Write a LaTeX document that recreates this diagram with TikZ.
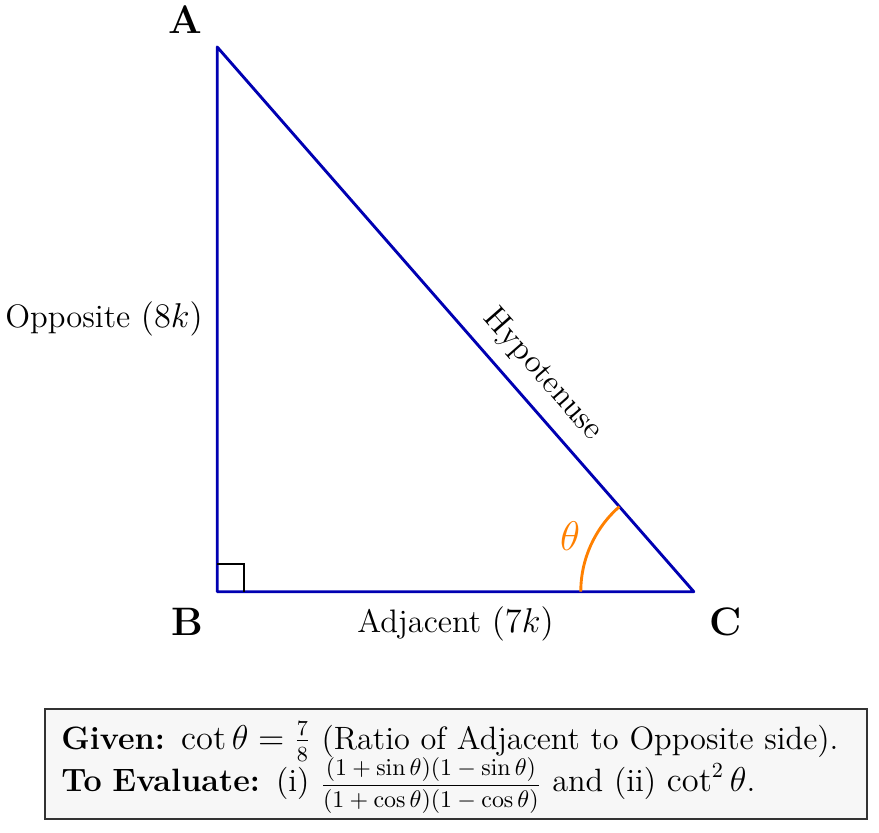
\documentclass[tikz,border=0pt]{standalone}
\usepackage{amsmath}
\usetikzlibrary{calc,positioning}
\begin{document}
\begin{tikzpicture}[
  side/.style={draw=blue!70!black, very thick, line join=round},
  vlabel/.style={font=\fontsize{16.6}{20}\selectfont\bfseries},
  slabel/.style={font=\fontsize{13.6}{16.3}\selectfont},
  boxtext/.style={font=\fontsize{13.5}{16.2}\selectfont},
]
\useasboundingbox (-3.19,-3.54) rectangle (9.72,8.69);
\coordinate (B) at (0,0);
\coordinate (C) at (7,0);
\coordinate (A) at (0,8);
\draw[side] (A) -- (B) -- (C) -- cycle;
\draw[thick] (0,0.4) -- (0.4,0.4) -- (0.4,0);
\draw[orange, very thick] ($(C)+(-1.66,0)$) arc[start angle=180, end angle={180-48.81}, radius=1.66];
\node[orange, font=\fontsize{16.6}{20}\selectfont] (th) at ($(C)+(156:1.99)$) {$\theta$};
\node[vlabel] (la) at ($(A)+(-0.47,0.40)$) {A};
\node[vlabel] (lb) at ($(B)+(-0.44,-0.44)$) {B};
\node[vlabel] (lc) at ($(C)+(0.47,-0.44)$) {C};
\path (A) -- (B) node[midway, left=2.5pt, slabel] (op) {Opposite $(8k)$};
\path (B) -- (C) node[midway, below=2.8pt, slabel] (ad) {Adjacent $(7k)$};
\path (A) -- (C) node[pos=0.637, above=2.5pt, sloped, slabel] (hy) {Hypotenuse};
\node[draw=black!80, fill=black!3, thick, align=left, boxtext, inner xsep=0pt, inner ysep=0pt, minimum width=12.07cm, minimum height=1.615cm, text width=11.6cm] (box) at (3.51,-2.526)
  {\mbox{\rule{0pt}{15pt}\textbf{Given:} $\cot\theta = \frac{7}{8}$ (Ratio of Adjacent to Opposite side).}\\[-2.6pt]
   \mbox{\textbf{To Evaluate:} (i) {\fontsize{10.3}{12.4}\selectfont$\dfrac{(1+\sin\theta)(1-\sin\theta)}{(1+\cos\theta)(1-\cos\theta)}$} and (ii) $\cot^2\theta$.}};
\end{tikzpicture}
\end{document}
